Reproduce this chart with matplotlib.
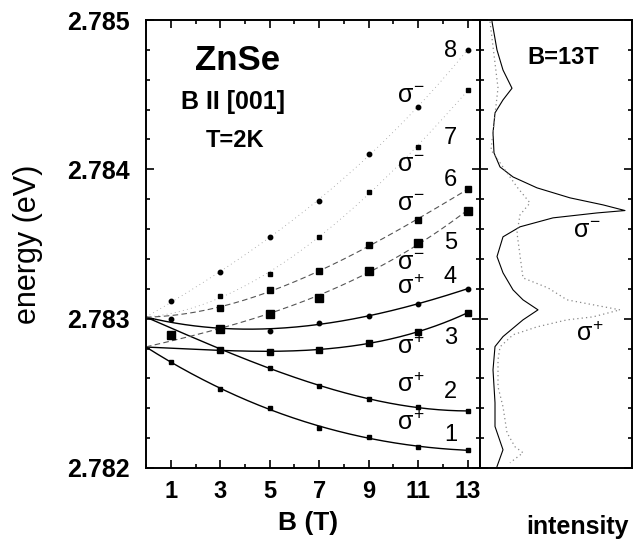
import numpy as np
import matplotlib
matplotlib.use('Agg')
import matplotlib.pyplot as plt
from matplotlib.ticker import MultipleLocator

plt.rcParams['font.family'] = ['Liberation Sans', 'DejaVu Sans']
plt.rcParams['mathtext.fontset'] = 'custom'
plt.rcParams['mathtext.rm'] = 'Liberation Sans'
plt.rcParams['mathtext.it'] = 'Liberation Sans'

# field values (T)
field = [1, 3, 5, 7, 9, 11, 13]

# zero-field starting energies of the fits (eV)
e_low = 2.78281
e_high = 2.78301

# measured transition energies (eV), nan = no point
level_1 = [2.78271, 2.78253, 2.78240, 2.78227, 2.78221, 2.78214, 2.78212]
level_2 = [np.nan, np.nan, 2.78267, 2.78255, 2.78246, 2.78241, 2.78238]
level_3 = [np.nan, 2.78279, 2.78278, 2.78279, 2.78284, 2.78291, 2.78304]
level_4 = [2.78300, 2.78293, 2.78292, 2.78297, 2.78302, 2.78310, 2.78320]
level_5 = [2.78289, 2.78293, 2.78303, 2.78314, 2.78332, 2.78351, 2.78372]
level_6 = [np.nan, 2.78307, 2.78319, 2.78332, 2.78349, 2.78366, 2.78387]
level_7 = [np.nan, 2.78315, 2.78330, 2.78355, 2.78385, 2.78415, 2.78453]
level_8 = [2.78312, 2.78331, 2.78355, 2.78379, 2.78410, 2.78442, 2.78480]

levels = [level_1, level_2, level_3, level_4, level_5, level_6, level_7, level_8]
level_start = [e_low, e_high, e_low, e_high, e_low, e_high, e_high, e_high]
level_names = ['1', '2', '3', '4', '5', '6', '7', '8']
level_name_y = [2.78222, 2.78251, 2.78287, 2.78328, 2.78351, 2.78393, 2.78421, 2.78479]
sigma_plus_y = [2.78230, 2.78256, 2.78281, 2.78321]
sigma_minus_y = [2.78337, 2.78377, 2.78403, 2.78449]

# spectra at B = 13 T (energy in eV, intensity in arb. units)
spec_minus_e = [2.784989, 2.784799, 2.784665, 2.784543, 2.784465, 2.784378, 2.784244,
                2.784110, 2.784016, 2.783949, 2.783876, 2.783809, 2.783762, 2.783724,
                2.783708, 2.783675, 2.783615, 2.783548, 2.783416, 2.783307, 2.783193,
                2.783126, 2.783059, 2.782992, 2.782880, 2.782813, 2.782657, 2.782437,
                2.782278, 2.782122, 2.782010]
spec_minus_i = [12, 17, 23, 32, 23, 15, 13, 14, 20, 33, 57, 90, 123, 145, 117, 73, 40,
                23, 17, 23, 33, 43, 58, 43, 23, 15, 13, 15, 15, 23, 17]
spec_plus_e = [2.784989, 2.784545, 2.784130, 2.783882, 2.783775, 2.783695, 2.783574,
               2.783273, 2.783206, 2.783126, 2.783093, 2.783059, 2.783012, 2.782992,
               2.782945, 2.782892, 2.782811, 2.782724, 2.782544, 2.782410, 2.782236,
               2.782142, 2.782102, 2.782035]
spec_plus_i = [10, 18, 11, 37, 50, 40, 37, 43, 68, 87, 113, 140, 113, 87, 57, 33, 20,
               18, 18, 23, 27, 35, 43, 30]

fig = plt.figure(figsize=(6.33, 5.45), dpi=100)
ax = fig.add_axes([0.2307, 0.1413, 0.5276, 0.822])
ax2 = fig.add_axes([0.7583, 0.1413, 0.2401, 0.822], sharey=ax)

marker_style = [('s', 3.2), ('s', 3.2), ('s', 4.5), ('o', 3.2),
                ('s', 6.0), ('s', 4.5), ('s', 3.2), ('o', 3.2)]
line_style = [dict(color='black', lw=1.0, ls='-')] * 4 + \
             [dict(color='#555555', lw=0.8, ls=(0, (5, 3))),
              dict(color='#555555', lw=0.8, ls=(0, (5, 3))),
              dict(color='#999999', lw=0.6, ls=(0, (1, 4))),
              dict(color='#999999', lw=0.6, ls=(0, (1, 4)))]

bb = np.linspace(0, 13, 200)
for i, lev in enumerate(levels):
    b = np.array([0] + field, dtype=float)
    e = np.array([level_start[i]] + lev, dtype=float)
    ok = ~np.isnan(e)
    w = np.where(b[ok] == 0, 5.0, 1.0)
    p = np.polyfit(b[ok], e[ok] - 2.783, 3, w=w)
    ax.plot(bb, np.polyval(p, bb) + 2.783, **line_style[i])
    m, ms = marker_style[i]
    ax.plot(field, lev, ls='none', marker=m, ms=ms, color='black')

for name, y in zip(level_names, level_name_y):
    ax.text(12.3, y, name, fontsize=17, ha='center', va='center')
for y in sigma_plus_y:
    ax.text(10.7, y, r'$\sigma^{+}$', fontsize=18, ha='center', va='center')
for y in sigma_minus_y:
    ax.text(10.7, y, r'$\sigma^{-}$', fontsize=18, ha='center', va='center')

ax.text(3.68, 2.78473, 'ZnSe', fontsize=25, fontweight='bold', ha='center', va='center')
ax.text(3.52, 2.78445, 'B II [001]', fontsize=18, fontweight='bold', ha='center', va='center')
ax.text(3.58, 2.78419, 'T=2K', fontsize=17, fontweight='bold', ha='center', va='center')

ax.set_xlim(0, 13.5)
ax.set_ylim(2.782, 2.785)
ax.set_xticks([1, 3, 5, 7, 9, 11, 13])
ax.xaxis.set_minor_locator(MultipleLocator(1))
ax.set_yticks([2.782, 2.783, 2.784, 2.785])
ax.yaxis.set_minor_locator(MultipleLocator(0.0002))
ax.set_yticklabels(['2.782', '2.783', '2.784', '2.785'])
ax.tick_params(which='both', direction='in', top=True, right=True, width=1.2)
ax.tick_params(which='major', length=6)
ax.tick_params(axis='y', which='major', labelsize=18, pad=12)
ax.tick_params(axis='x', which='major', labelsize=17, pad=9)
ax.tick_params(which='minor', length=3)
for lab in ax.get_xticklabels() + ax.get_yticklabels():
    lab.set_fontweight('bold')
ax.set_xlabel('B (T)', fontsize=19, fontweight='bold')
ax.xaxis.set_label_coords(0.485, -0.095)
ax.set_ylabel('energy (eV)', fontsize=22)
ax.yaxis.set_label_coords(-0.31, 0.5)

ax2.plot(spec_minus_i, spec_minus_e, color='black', lw=0.8)
ax2.plot(spec_plus_i, spec_plus_e, color='#888888', lw=0.9, ls=(0, (1, 2.5)))
ax2.set_xlim(0, 152)
ax2.set_xticks([])
ax2.tick_params(axis='y', which='both', direction='in', left=True, right=True,
                labelleft=False, width=1.2)
ax2.tick_params(which='major', length=6)
ax2.tick_params(which='minor', length=3)
ax2.set_xlabel('intensity', fontsize=18, fontweight='bold')
ax2.xaxis.set_label_coords(0.64, -0.105)
ax2.text(0.55, 0.916, 'B=13T', transform=ax2.transAxes, fontsize=17,
         fontweight='bold', ha='center', va='center')
ax2.text(107, 2.78359, r'$\sigma^{-}$', fontsize=18, ha='center', va='center')
ax2.text(110, 2.78290, r'$\sigma^{+}$', fontsize=18, ha='center', va='center')

for a in (ax, ax2):
    for s in a.spines.values():
        s.set_linewidth(1.4)

fig.savefig('out.png', dpi=100)
